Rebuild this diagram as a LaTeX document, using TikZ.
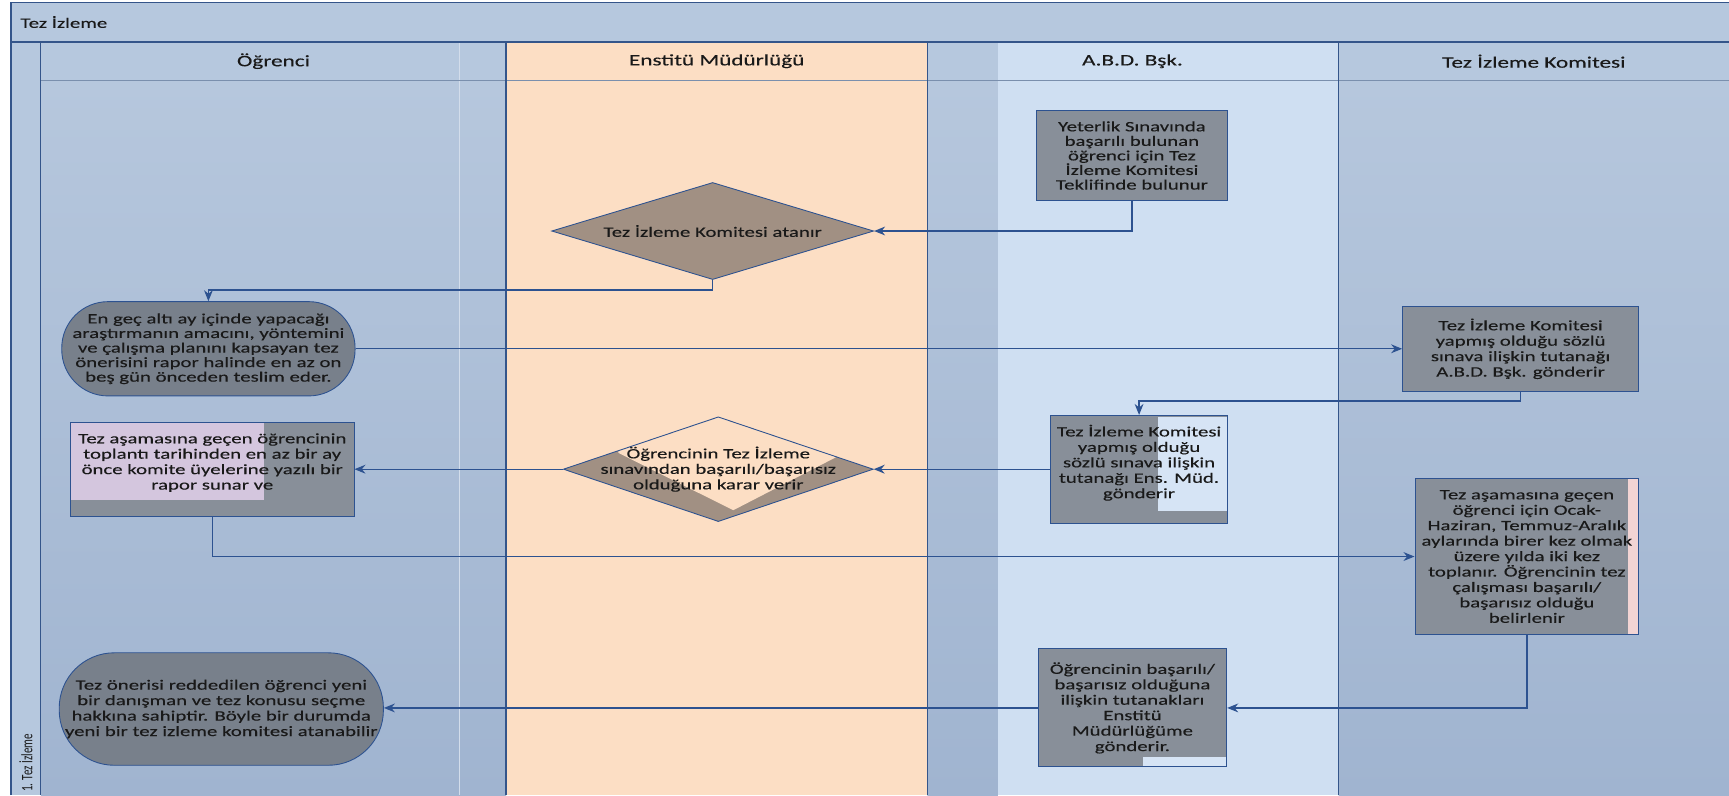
\documentclass[tikz,border=0pt]{standalone}
\usepackage{fontspec}
\setmainfont{Carlito}[FakeStretch=1.45, FakeBold=0.25]
\newfontfamily\stripfont{Carlito}[FakeStretch=0.69]
\usepackage{tikz}
\usetikzlibrary{shapes.geometric, arrows.meta, calc}
\definecolor{myframe}{RGB}{52,85,138}
\definecolor{myline}{RGB}{45,82,144}
\definecolor{mytext}{RGB}{25,25,25}
\definecolor{hdrblue}{RGB}{182,200,222}
\definecolor{lanetop}{RGB}{182,199,221}
\definecolor{lanebot}{RGB}{160,180,208}
\definecolor{lanepeach}{RGB}{252,222,196}
\definecolor{lanelight}{RGB}{207,223,242}
\definecolor{hdrrule}{RGB}{122,143,173}
\definecolor{boxgrey}{RGB}{136,143,153}
\definecolor{termgrey}{RGB}{120,128,139}
\definecolor{decitaupe}{RGB}{161,144,131}
\definecolor{ovlilac}{RGB}{212,198,222}
\definecolor{ovlight}{RGB}{214,228,245}
\definecolor{ovpink}{RGB}{242,212,212}
\newcommand{\flowfont}{\fontsize{13}{14}\selectfont}
\newcommand{\hdrfont}{\fontsize{14.5}{16}\selectfont}
\tikzset{
  procbox/.style={rectangle, draw=myline, fill=boxgrey, text=mytext,
    align=center, inner sep=1pt, line width=0.8pt, font=\flowfont},
  terminal/.style={rectangle, draw=myline, fill=termgrey, text=mytext,
    align=center, inner sep=1pt, line width=0.8pt, font=\flowfont},
  decision/.style={diamond, draw=myline, fill=decitaupe,
    inner sep=0pt, line width=0.8pt},
  flowlabel/.style={align=center, text=mytext, font=\flowfont, inner sep=0pt},
  lanehdr/.style={text=mytext, font=\hdrfont},
  frameline/.style={line width=1.2pt, color=myframe},
  arrow/.style={-{Stealth[length=10pt, width=8pt]}, line width=1.1pt, color=myline}
}

\begin{document}
\begin{tikzpicture}[x=1pt, y=-1pt]
  \useasboundingbox (0,0) rectangle (1568,721);

  % Pool and lanes
  \fill[hdrblue] (10,2) rectangle (1568,38);
  \fill[hdrblue] (10,38) rectangle (37,721);
  \shade[top color=lanetop, bottom color=lanebot] (37,73) rectangle (459,721);
  \fill[lanepeach] (459,38) rectangle (841,721);
  \shade[top color=lanetop, bottom color=lanebot] (841,73) rectangle (905,721);
  \fill[lanelight] (905,38) rectangle (1214,721);
  \shade[top color=lanetop, bottom color=lanebot] (1214,73) rectangle (1568,721);
  \fill[hdrblue] (37,38) rectangle (459,73);
  \fill[hdrblue] (841,38) rectangle (905,73);
  \fill[hdrblue] (1214,38) rectangle (1568,73);
  \draw[color=lanetop!60!white, line width=0.6pt] (417,38) -- (417,721);

  \draw[line width=1.4pt, color=hdrrule] (37,73) -- (1568,73);
  \draw[frameline] (10,721) -- (10,2) -- (1568,2);
  \draw[frameline] (10,38) -- (1568,38);
  \draw[frameline] (37,38) -- (37,721);
  \draw[frameline] (459,38) -- (459,721);
  \draw[frameline] (841,38) -- (841,721);
  \draw[frameline] (1214,38) -- (1214,721);

  % Titles
  \node[anchor=west, text=mytext, font=\fontsize{13}{15}\selectfont] (pool) at (15,20) {Tez İzleme};
  \node[lanehdr] (hogr) at (248,55.5) {Öğrenci};
  \node[lanehdr] (hens) at (650,55.5) {Enstitü Müdürlüğü};
  \node[lanehdr] (habd) at (1027,55.5) {A.B.D. Bşk.};
  \node[lanehdr] (htik) at (1391,55.5) {Tez İzleme Komitesi};
  \node[rotate=90, text=mytext, font=\stripfont\fontsize{14.5}{15}\selectfont] (strip) at (23.5,692) {1. Tez İzleme};

  % Steps
  \node[procbox, minimum width=174pt, minimum height=82pt, font=\fontsize{13}{13.2}\selectfont]
    (yeterlik) at (1026.5,141) {Yeterlik Sınavında\\başarılı bulunan\\öğrenci için Tez\\İzleme Komitesi\\Teklifinde bulunur};
  \node[decision, minimum width=292pt, minimum height=88pt,
    label={[flowlabel]center:Tez İzleme Komitesi atanır}] (atama) at (646.3,209.5) {};
  \node[terminal, minimum width=266pt, minimum height=85.5pt, rounded corners=42pt,
    font=\fontsize{13}{13.2}\selectfont]
    (oneri) at (189,316.3) {En geç altı ay içinde yapacağı\\araştırmanın amacını, yöntemini\\ve çalışma planını kapsayan tez\\önerisini rapor halinde en az on\\beş gün önceden teslim eder.};
  \node[procbox, minimum width=214pt, minimum height=77pt] (tutabd) at (1379,316.3)
    {Tez İzleme Komitesi\\yapmış olduğu sözlü\\sınava ilişkin tutanağı\\A.B.D. Bşk. gönderir};
  \node[procbox, minimum width=257pt, minimum height=85.6pt,
    path picture={\fill[ovlilac] ($(path picture bounding box.center)+(-140pt,50pt)$)
      rectangle ($(path picture bounding box.center)+(47pt,-27.5pt)$);}]
    (rapor) at (192.5,425.5) {Tez aşamasına geçen öğrencinin\\toplantı tarihinden en az bir ay\\önce komite üyelerine yazılı bir\\rapor sunar ve\\[0pt]\mbox{}};
  \node[decision, minimum width=281pt, minimum height=95pt,
    path picture={\fill[lanepeach] ($(path picture bounding box.center)+(-90.7pt,14.8pt)$)
      -- ($(path picture bounding box.center)+(-90.7pt,60pt)$)
      -- ($(path picture bounding box.center)+(107.4pt,60pt)$)
      -- ($(path picture bounding box.center)+(107.4pt,11.2pt)$)
      -- ($(path picture bounding box.center)+(13.6pt,-37.2pt)$) -- cycle;},
    label={[flowlabel]center:{Öğrencinin Tez İzleme\\sınavından başarılı/başarısız\\olduğuna karar verir}}]
    (karar) at (651.4,425.5) {};
  \node[procbox, minimum width=161pt, minimum height=97.6pt,
    path picture={\fill[ovlight] ($(path picture bounding box.center)+(17pt,47pt)$)
      rectangle ($(path picture bounding box.center)+(90pt,-37.5pt)$);}]
    (tutens) at (1033,425.5) {Tez İzleme Komitesi\\yapmış olduğu\\sözlü sınava ilişkin\\tutanağı Ens. Müd.\\gönderir\\[0pt]\mbox{}};
  \node[procbox, minimum width=203pt, minimum height=142pt,
    path picture={\fill[ovpink] ($(path picture bounding box.center)+(91.3pt,80pt)$)
      rectangle ($(path picture bounding box.center)+(100.8pt,-80pt)$);}]
    (toplanti) at (1384.7,504.7) {Tez aşamasına geçen\\öğrenci için Ocak-\\Haziran, Temmuz-Aralık\\aylarında birer kez olmak\\üzere yılda iki kez\\toplanır. Öğrencinin tez\\çalışması başarılı/\\başarısız olduğu\\belirlenir};
  \node[procbox, minimum width=171pt, minimum height=107pt,
    path picture={\fill[ovlight] ($(path picture bounding box.center)+(9.6pt,-44.5pt)$)
      rectangle ($(path picture bounding box.center)+(90pt,-60pt)$);}]
    (sonuc) at (1027,642) {Öğrencinin başarılı/\\başarısız olduğuna\\ilişkin tutanakları\\Enstitü\\Müdürlüğüme\\gönderir.};
  \node[terminal, minimum width=294pt, minimum height=102pt, rounded corners=50pt]
    (ret) at (200.7,643) {Tez önerisi reddedilen öğrenci yeni\\bir danışman ve tez konusu seçme\\hakkına sahiptir. Böyle bir durumda\\yeni bir tez izleme komitesi atanabilir};

  % Flow
  \draw[arrow] (yeterlik.south) |- (atama.east);
  \draw[arrow] (atama.south) -- ++(0,9) -| (oneri.north);
  \draw[arrow] (oneri.east) -- (oneri.east -| tutabd.west);
  \draw[arrow] (tutabd.south) -- ++(0,8.5) -| (tutens.north);
  \draw[arrow] (tutens.west) -- (karar.east);
  \draw[arrow] (karar.west) -- (rapor.east);
  \draw[arrow] (rapor.south) |- (toplanti.west);
  \draw[arrow] (toplanti.south) |- (sonuc.east);
  \draw[arrow] (sonuc.west) -- (sonuc.west -| ret.east);
\end{tikzpicture}
\end{document}
